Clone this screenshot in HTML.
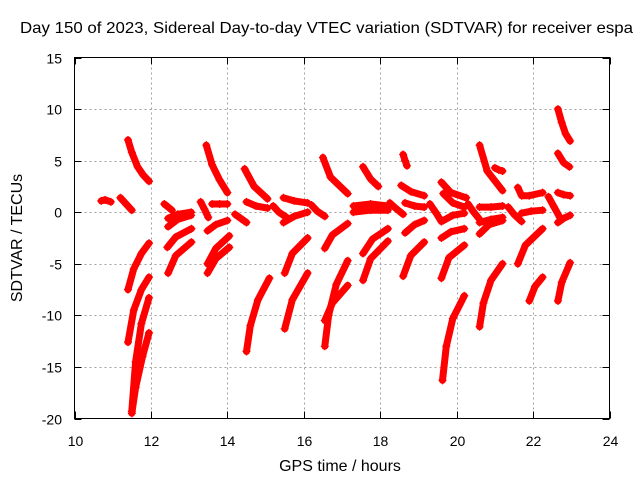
<!DOCTYPE html>
<html><head><meta charset="utf-8"><style>
html,body{margin:0;padding:0;background:#fff;}
svg{display:block;font-family:"Liberation Sans",sans-serif;}
</style></head><body>
<svg id="chart" width="640" height="480" viewBox="0 0 640 480" xmlns="http://www.w3.org/2000/svg">
<rect width="640" height="480" fill="#fff"/>
<text x="20" y="33" font-size="16" textLength="613" lengthAdjust="spacingAndGlyphs">Day 150 of 2023, Sidereal Day-to-day VTEC variation (SDTVAR) for receiver espa</text>
<g id="grid"></g>
<g id="marks"></g>
<rect x="74.5" y="57.5" width="535" height="361" fill="none" stroke="#000" stroke-width="1"/>
<g id="ticks"></g>
<text x="340" y="471" font-size="16" text-anchor="middle">GPS time / hours</text>
<text transform="translate(22,238) rotate(-90)" font-size="16" text-anchor="middle">SDTVAR / TECUs</text>
</svg>
<script>
const xTicks = [10,12,14,16,18,20,22,24];
const yTicks = [15,10,5,0,-5,-10,-15,-20];
const trackTimes = [
[10.7,10.8,10.95],[11.2,11.35,11.5],[11.4,11.5,11.65,11.8,11.95],[11.4,11.55,11.75,11.95],
[11.4,11.55,11.75,11.95],[11.5,11.6,11.75,11.95],[11.5,11.6,11.78,11.95],[12.35,12.45,12.55],
[12.45,12.7,13.05],[12.45,12.7,13.05],[12.43,12.65,13.06],[12.45,12.65,13.06],
[13.3,13.4,13.5],[13.45,13.6,13.8,14.0],[13.6,13.8,14.0],[13.48,13.7,14.0],
[13.48,13.7,14.05],[13.48,13.7,14.05],[14.2,14.35,14.5],[14.45,14.7,15.05],
[14.5,14.75,15.05],[14.5,14.6,14.8,15.1],[15.2,15.35,15.55],[15.47,15.75,16.1],
[15.47,15.75,16.1],[15.5,15.7,16.1],[15.5,15.7,16.1],[16.2,16.35,16.55],
[16.5,16.7,17.15],[16.55,16.75,17.15],[16.55,16.65,16.85,17.15],[16.55,16.75,17.15],
[17.3,17.75,18.2],[17.3,17.75,18.2],[17.55,17.75,17.95],[17.55,17.8,18.2],
[17.55,17.75,18.2],[18.25,18.4,18.6],[18.6,18.65,18.7],[18.55,18.8,19.15],
[18.65,18.9,19.15],[18.65,18.9,19.15],[18.6,18.8,19.15],[19.3,19.45,19.6],
[19.6,19.85,20.25],[19.65,19.9,20.2],[19.65,19.9,20.2],[19.6,19.85,20.2],
[19.6,19.8,20.2],[19.63,19.73,19.9,20.2],[20.3,20.45,20.6],[20.6,20.8,21.2],
[20.6,20.9,21.2],[20.6,20.9,21.2],[20.6,20.85,21.2],[20.6,20.7,20.9,21.2],
[21.0,21.1,21.2],[21.35,21.5,21.7],[21.6,21.7,21.9,22.25],[21.7,21.95,22.25],
[21.6,21.8,22.25],[21.9,22.05,22.25],[22.4,22.55,22.7],[22.65,22.75,22.85,22.97],
[22.65,22.8,22.95],[22.65,22.8,22.97],[22.65,22.8,22.97],[22.65,22.75,22.97]
];
const trackValues = [
[1.1,1.2,1.0],[1.4,0.8,0.2],[7.0,5.8,4.4,3.6,3.0],[-7.5,-5.5,-4.0,-3.0],
[-12.6,-9.5,-7.5,-6.3],[-19.3,-14.5,-10.8,-8.3],[-19.5,-17,-14,-11.7],[0.8,0.5,0.2],
[-1.4,-0.7,-0.3],[-0.6,-0.2,0.0],[-3.4,-2.4,-1.6],[-5.9,-4.2,-2.9],
[1.0,0.3,-0.5],[6.5,4.6,3.1,1.9],[0.8,0.8,0.8],[-1.8,-1.2,-0.8],
[-5.0,-3.5,-2.3],[-5.9,-4.5,-3.4],[-0.2,-0.6,-1.0],[4.2,2.5,1.3],
[1.0,0.6,0.4],[-13.5,-11,-8.5,-6.4],[0.6,0,-0.5],[1.4,1.1,0.9],
[-1.0,-0.4,0.0],[-5.9,-4.0,-2.5],[-11.3,-8.5,-5.9],[0.7,0.1,-0.4],
[5.3,3.4,1.8],[-3.5,-2.2,-1.1],[-13.0,-10,-7,-4.7],[-10.5,-8.8,-7.1],
[0.6,0.8,0.6],[0.0,0.2,0.2],[4.4,3.2,2.5],[-4.0,-2.6,-1.6],
[-6.6,-4.5,-2.8],[0.9,0.4,-0.2],[5.6,5.0,4.5],[2.6,2.0,1.6],
[0.9,0.6,0.5],[-2.0,-1.2,-0.8],[-6.2,-4.2,-2.9],[0.8,0,-0.9],
[2.9,1.9,1.4],[1.8,0.9,0.5],[-0.8,-0.3,-0.1],[-2.5,-1.9,-1.6],
[-6.4,-4.4,-3.2],[-16.3,-13,-10.3,-8.1],[0.8,0,-0.7],[6.5,4.0,2.1],
[0.5,0.5,0.6],[-1.0,-0.7,-0.5],[-2.1,-1.2,-0.8],[-11.1,-8.8,-6.6,-5.0],
[4.3,4.1,4.0],[0.5,-0.2,-0.9],[2.4,1.6,1.6,1.9],[-0.1,0.1,0.2],
[-5.0,-3.2,-1.6],[-8.6,-7.2,-6.3],[1.5,0.5,-0.5],[10.0,8.7,7.6,6.9],
[5.7,4.8,4.4],[1.9,1.7,1.6],[-1.0,-0.6,-0.3],[-8.6,-6.8,-4.9]
];
const NS='http://www.w3.org/2000/svg';
const L=74.5,R=609.5,T=57.5,B=418.5;
const xMin=10,xMax=24,yMin=-20,yMax=15;
function sx(t){return L+(t-xMin)/(xMax-xMin)*(R-L);}
function sy(v){return B-(v-yMin)/(yMax-yMin)*(B-T);}
function mk(tag,attrs,parent){const e=document.createElementNS(NS,tag);for(const k in attrs)e.setAttribute(k,attrs[k]);parent.appendChild(e);return e;}
const grid=document.getElementById('grid'),ticks=document.getElementById('ticks'),marks=document.getElementById('marks');
xTicks.forEach(function(t){
  const x=Math.round(sx(t))+0.5;
  if(t>xMin&&t<xMax){
    const g=mk('line',{x1:x,y1:T,x2:x,y2:B,stroke:'#a0a0a0','stroke-dasharray':'2,3'},grid);
    
    
  }
  mk('line',{x1:x,y1:B,x2:x,y2:B-7,stroke:'#000'},ticks);
  mk('line',{x1:x,y1:T,x2:x,y2:T+7,stroke:'#000'},ticks);
  const lb=mk('text',{x:x,y:446,'font-size':'14','text-anchor':'middle'},ticks);
  lb.textContent=t;
  
  
});
yTicks.forEach(function(v){
  const y=Math.round(sy(v))+0.5;
  if(v>yMin&&v<yMax){
    const g=mk('line',{x1:L,y1:y,x2:R,y2:y,stroke:'#a0a0a0','stroke-dasharray':'2,3'},grid);
    
    
  }
  mk('line',{x1:L,y1:y,x2:L+7,y2:y,stroke:'#000'},ticks);
  mk('line',{x1:R,y1:y,x2:R-7,y2:y,stroke:'#000'},ticks);
  const lb=mk('text',{x:62,y:y+5,'font-size':'14','text-anchor':'end'},ticks);
  lb.textContent=v;
  
  
});
trackTimes.forEach(function(ts,i){
  const vs=trackValues[i];
  const pts=ts.map(function(t,j){return sx(t).toFixed(1)+','+sy(vs[j]).toFixed(1);}).join(' ');
  const pl=mk('polyline',{points:pts,fill:'none',stroke:'#f00','stroke-width':'7','stroke-linejoin':'round','stroke-linecap':'round'},marks);
  
  
  ts.forEach(function(t,j){
    const x=sx(t),y=sy(vs[j]);
    const p=mk('path',{d:'M'+(x-4)+' '+y+'H'+(x+4)+'M'+x+' '+(y-4)+'V'+(y+4),stroke:'#f00','stroke-width':'1.2'},marks);
    
    
  });
});
</script>
</body></html>
